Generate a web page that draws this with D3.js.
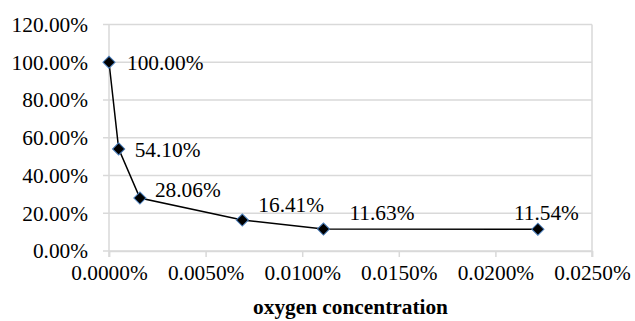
<!DOCTYPE html>
<html><head><meta charset="utf-8">
<script src="https://cdn.jsdelivr.net/npm/d3@7"></script>
<style>body{margin:0;background:#fff}svg{display:block}
svg text{font-family:"Liberation Serif","Times New Roman",Times,serif !important;}</style>
</head><body>
<script>
// Data
const oxygen = [0, 0.000005, 0.000016, 0.000069, 0.000111, 0.000222];
const ratio  = [1.0, 0.541, 0.2806, 0.1641, 0.1163, 0.1154];
const yTicks = [0, 0.2, 0.4, 0.6, 0.8, 1.0, 1.2];
const xTicks = [0, 0.00005, 0.0001, 0.00015, 0.0002, 0.00025];
const xTitle = "oxygen concentration";
// label placement (layout only)
const labelDx = [18, 16, 15, 16, 26, -24];
const labelDy = [0, 1, -9, -15, -17, -17];

const W = 635, H = 321;
const m = {l:109, r:43, t:24.5, b:70};
const svg = d3.select("body").append("svg").attr("width", W).attr("height", H);
const x = d3.scaleLinear().domain([0, 0.00025]).range([m.l, W - m.r]);
const y = d3.scaleLinear().domain([0, 1.2]).range([H - m.b, m.t]);
const fs = 21.33;
const grid = "#d9d9d9";

// gridlines
svg.append("g").selectAll("line").data(yTicks).join("line")
  .attr("x1", m.l - 6).attr("x2", W - m.r)
  .attr("y1", d => y(d)).attr("y2", d => y(d))
  .attr("stroke", grid).attr("stroke-width", 1.5);
// left axis line and right border
svg.append("line").attr("x1", m.l).attr("x2", m.l).attr("y1", m.t).attr("y2", H - m.b + 6)
  .attr("stroke", grid).attr("stroke-width", 1.5);
svg.append("line").attr("x1", W - m.r).attr("x2", W - m.r).attr("y1", m.t).attr("y2", H - m.b + 6)
  .attr("stroke", grid).attr("stroke-width", 1.5);

// x axis
const xAxis = d3.axisBottom(x).tickValues(xTicks).tickFormat(d3.format(".4%")).tickSize(6).tickPadding(8);
const gx = svg.append("g").attr("transform", `translate(0,${H - m.b})`).call(xAxis)
  .attr("font-family", null).attr("font-size", fs);
gx.select(".domain").attr("stroke", grid).attr("stroke-width", 1.5);
gx.selectAll(".tick line").attr("stroke", grid).attr("stroke-width", 1.5);
gx.selectAll("text").attr("fill", "#000");

// y axis labels
const yAxis = d3.axisLeft(y).tickValues(yTicks).tickFormat(d3.format(".2%")).tickSize(0).tickPadding(21);
const gy = svg.append("g").attr("transform", `translate(${m.l},0)`).call(yAxis)
  .attr("font-family", null).attr("font-size", fs);
gy.select(".domain").remove();
gy.selectAll("text").attr("fill", "#000");

// x title
svg.append("text").attr("x", (m.l + W - m.r) / 2).attr("y", 314)
  .attr("text-anchor", "middle").attr("font-weight", "bold")
  .attr("font-size", fs).text(xTitle);

const pts = oxygen.map((o, i) => ({x: o, y: ratio[i], i}));
// line
svg.append("path").datum(pts)
  .attr("d", d3.line().x(d => x(d.x)).y(d => y(d.y)))
  .attr("fill", "none").attr("stroke", "#000").attr("stroke-width", 1.5);
// markers
svg.append("g").selectAll("path").data(pts).join("path")
  .attr("transform", d => `translate(${x(d.x)},${y(d.y)}) rotate(45)`)
  .attr("d", "M-4.3,-4.3H4.3V4.3H-4.3Z")
  .attr("fill", "#000").attr("stroke", "#4a7ebb").attr("stroke-width", 1);
// labels
svg.append("g").selectAll("text").data(pts).join("text")
  .attr("x", d => x(d.x) + labelDx[d.i]).attr("y", d => y(d.y) + labelDy[d.i])
  .attr("dy", "0.35em").attr("font-size", fs)
  .text(d => d3.format(".2%")(d.y));
</script>
</body></html>
